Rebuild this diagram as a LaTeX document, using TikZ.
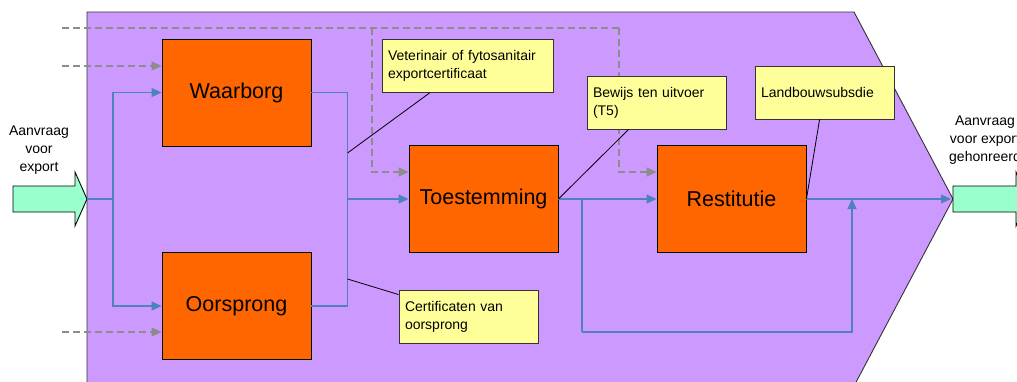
\documentclass[tikz,border=0pt]{standalone}
\usepackage{fontspec}
\setmainfont{Liberation Sans}
\usetikzlibrary{arrows.meta}
\definecolor{purp}{HTML}{CC99FF}
\definecolor{orng}{HTML}{FF6600}
\definecolor{ylw}{HTML}{FFFF99}
\definecolor{grn}{HTML}{99FFCC}
\definecolor{flowc}{HTML}{4F81BD}
\definecolor{ctrlc}{HTML}{8C8C8C}
\tikzset{
  procbox/.style={draw=black, line width=0.9pt, fill=orng, minimum width=149pt, minimum height=107pt, inner sep=0pt, font=\fontsize{21.5}{24}\selectfont},
  notebox/.style={draw=black!80, line width=0.9pt, fill=ylw, minimum height=53pt, inner xsep=6pt, inner ysep=0pt, align=left, font=\fontsize{14}{17.8}\selectfont},
  flow/.style={draw=flowc, line width=1.1pt},
  flowarr/.style={flow, -{Triangle[length=10pt,width=9pt]}},
  ctrl/.style={draw=ctrlc, line width=1.1pt, dash pattern=on 7pt off 4pt},
  ctrlarr/.style={ctrl, -{Triangle[length=10pt,width=9pt]}},
  callout/.style={draw=black, line width=0.8pt},
  lbl/.style={align=center, font=\fontsize{14}{18}\selectfont, inner sep=0pt},
}
\begin{document}
\begin{tikzpicture}[x=1pt, y=-1pt]
\useasboundingbox (0,0) rectangle (1017,381);
% background chevron
\filldraw[fill=purp, draw=black!80, line width=0.9pt] (87,12) -- (854,12) -- (953,199) -- (854,386) -- (87,386) -- cycle;
% input / output arrows
\filldraw[fill=grn, draw=black, line width=0.9pt] (13,186) -- (75,186) -- (75,172) -- (87,199) -- (75,226) -- (75,212) -- (13,212) -- cycle;
\filldraw[fill=grn, draw=black, line width=0.9pt] (953,186) -- (1016,186) -- (1016,172) -- (1028,199) -- (1016,226) -- (1016,212) -- (953,212) -- cycle;
\node[lbl] (inlbl) at (39,150) {Aanvraag\\voor\\export};
\node[lbl] (outlbl) at (985,140) {Aanvraag\\voor export\\gehonreerd};
% process boxes
\node[procbox] (w) at (236.5,92.5) {Waarborg};
\node[procbox] (o) at (236.5,306) {Oorsprong};
\node[procbox] (t) at (483.5,199) {Toestemming};
\node[procbox] (r) at (731.5,199) {Restitutie};
% coordinates
\coordinate (intip) at (87,199);
\coordinate (split) at (113,199);
\coordinate (join) at (347.5,199);
\coordinate (bypass) at (582,199);
\coordinate (bypasslow) at (582,332);
\coordinate (bypassend) at (852,199);
\coordinate (outtip) at (951,199);
\coordinate (d1) at (62,28);
\coordinate (dmid) at (372,28);
\coordinate (dtop) at (619,28);
\coordinate (d2) at (62,66);
\coordinate (d3) at (62,332);
\coordinate (vfoot) at (347.5,153);
\coordinate (cfoot) at (347.5,279);
% control (dashed) arrows
\draw[ctrl] (d1) -- (dtop);
\draw[ctrlarr] (dmid) |- ([yshift=27pt]t.west);
\draw[ctrlarr] (dtop) |- ([yshift=27pt]r.west);
\draw[ctrlarr] (d2) -- (w.west |- d2);
\draw[ctrlarr] (d3) -- (o.west |- d3);
% notes
\node[notebox, text width=159pt] (vnote) at (467.5,66) {Veterinair of fytosanitair\\exportcertificaat};
\node[notebox, text width=127pt] (bnote) at (656.5,102.5) {Bewijs ten uitvoer\\(T5)};
\node[notebox, text width=127pt] (lnote) at (824.5,92.5) {Landbouwsubsdie};
\node[notebox, text width=127pt] (cnote) at (468.5,316.5) {Certificaten van\\oorsprong};
% flow arrows
\draw[flow] (intip) -- (split);
\draw[flowarr] (split) |- (w.west);
\draw[flowarr] (split) |- (o.west);
\draw[flow] (w.east) -| (join);
\draw[flow] (o.east) -| (join);
\draw[flowarr] (join) -- (t.west);
\draw[flowarr] (t.east) -- (r.west);
\draw[flow] (bypass) -- (bypasslow);
\draw[flowarr] (bypasslow) -| (bypassend);
\draw[flowarr] (r.east) -- (outtip);
% callouts
\draw[callout] ([xshift=48pt]vnote.south west) -- (vfoot);
\draw[callout] (cfoot) -- ([yshift=-5pt]cnote.north west);
\draw[callout] ([xshift=42pt]bnote.south west) -- (t.east);
\draw[callout] ([xshift=65pt]lnote.south west) -- (r.east);
\end{tikzpicture}
\end{document}
